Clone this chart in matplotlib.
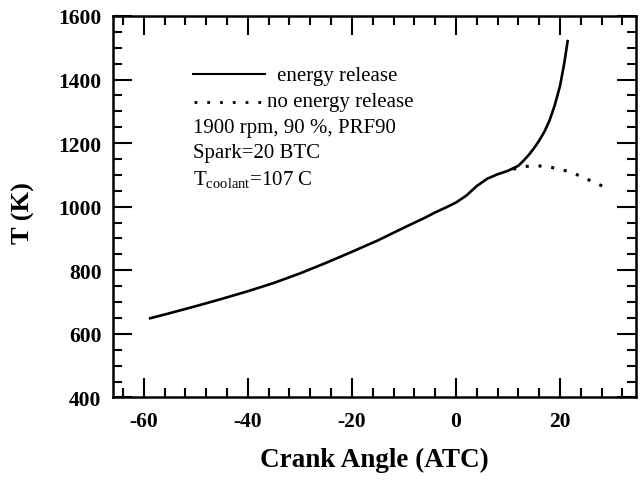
import matplotlib
matplotlib.use("Agg")
import matplotlib.pyplot as plt
from matplotlib.ticker import MultipleLocator
from matplotlib.lines import Line2D

plt.rcParams['font.family'] = ['Liberation Serif', 'DejaVu Serif']
plt.rcParams['mathtext.fontset'] = 'custom'
plt.rcParams['mathtext.rm'] = 'Liberation Serif'
plt.rcParams['mathtext.it'] = 'Liberation Serif:italic'
plt.rcParams['axes.unicode_minus'] = False

# Gas temperature vs crank angle
angle_release = [-59, -55, -50, -45, -40, -35, -30, -25, -20, -15, -10, -6, -4, -2, 0,
                 2, 4, 6, 8, 10, 12, 13, 14, 15, 16, 17, 18, 19, 20, 20.8, 21.5]
temp_release = [648, 665, 687, 710, 734, 760, 790, 823, 858, 894, 934, 965, 982, 997, 1013,
                1035, 1065, 1088, 1102, 1113, 1129, 1145, 1163, 1184, 1208, 1236, 1272, 1320, 1380, 1450, 1525]

angle_no_release = [11, 13, 15, 17.5, 21.4, 24, 26.5, 28.7]
temp_no_release = [1118, 1126, 1129, 1127, 1112, 1096, 1077, 1061]

x_ticks = [-60, -40, -20, 0, 20]
y_ticks = [400, 600, 800, 1000, 1200, 1400, 1600]

fig = plt.figure(figsize=(6.4, 4.85), dpi=100)
ax = fig.add_axes([112.5 / 640, 1 - 398.4 / 485, 523.5 / 640, 381.4 / 485])

ax.plot(angle_release, temp_release, color='black', lw=1.9, solid_capstyle='butt',
        solid_joinstyle='round')
ax.plot(angle_no_release, temp_no_release, color='black', lw=2.2,
        linestyle=(0, (1, 3.2)))

ax.set_xlim(-66, 34.6)
ax.set_ylim(400, 1600)
ax.set_xticks(x_ticks)
ax.set_yticks(y_ticks)
ax.xaxis.set_minor_locator(MultipleLocator(4))
ax.yaxis.set_minor_locator(MultipleLocator(50))

ax.tick_params(which='both', direction='in', top=True, right=True, width=1.5)
ax.tick_params(which='major', length=13.5)
ax.tick_params(which='minor', length=6.8)
ax.tick_params(axis='x', which='major', pad=10)
ax.tick_params(axis='y', which='major', pad=8)
for lab in ax.get_xticklabels() + ax.get_yticklabels():
    lab.set_fontweight('bold')
    lab.set_fontsize(15.5)
for sp in ax.spines.values():
    sp.set_linewidth(1.8)

ax.set_xlabel('Crank Angle (ATC)', fontsize=19.5, fontweight='bold')
ax.set_ylabel('T (K)', fontsize=19, fontweight='bold')
ax.xaxis.set_label_coords(0.5, -0.1615)
ax.xaxis.label.set_va('center')
ax.yaxis.set_label_coords(-0.171, 0.486)
ax.yaxis.label.set_va('center')

# Hand-drawn legend and run conditions
tr = ax.transAxes
ax.add_line(Line2D([0.154, 0.291], [0.848, 0.848], transform=tr, color='black', lw=1.5))
ax.text(0.314, 0.833, 'energy release', transform=tr, fontsize=15, va='baseline')
ax.add_line(Line2D([0.156, 0.289], [0.775, 0.775], transform=tr, color='black', lw=2.0,
                   linestyle=(0, (1, 3.6))))
ax.text(0.296, 0.765, 'no energy release', transform=tr, fontsize=15, va='baseline')
ax.text(0.154, 0.695, '1900 rpm, 90 %, PRF90', transform=tr, fontsize=15, va='baseline')
ax.text(0.154, 0.630, 'Spark=20 BTC', transform=tr, fontsize=15, va='baseline')
ax.text(0.154, 0.560, r'T$_{\mathrm{coolant}}$=107 C', transform=tr, fontsize=15, va='baseline')

fig.savefig('out.png', dpi=100)
